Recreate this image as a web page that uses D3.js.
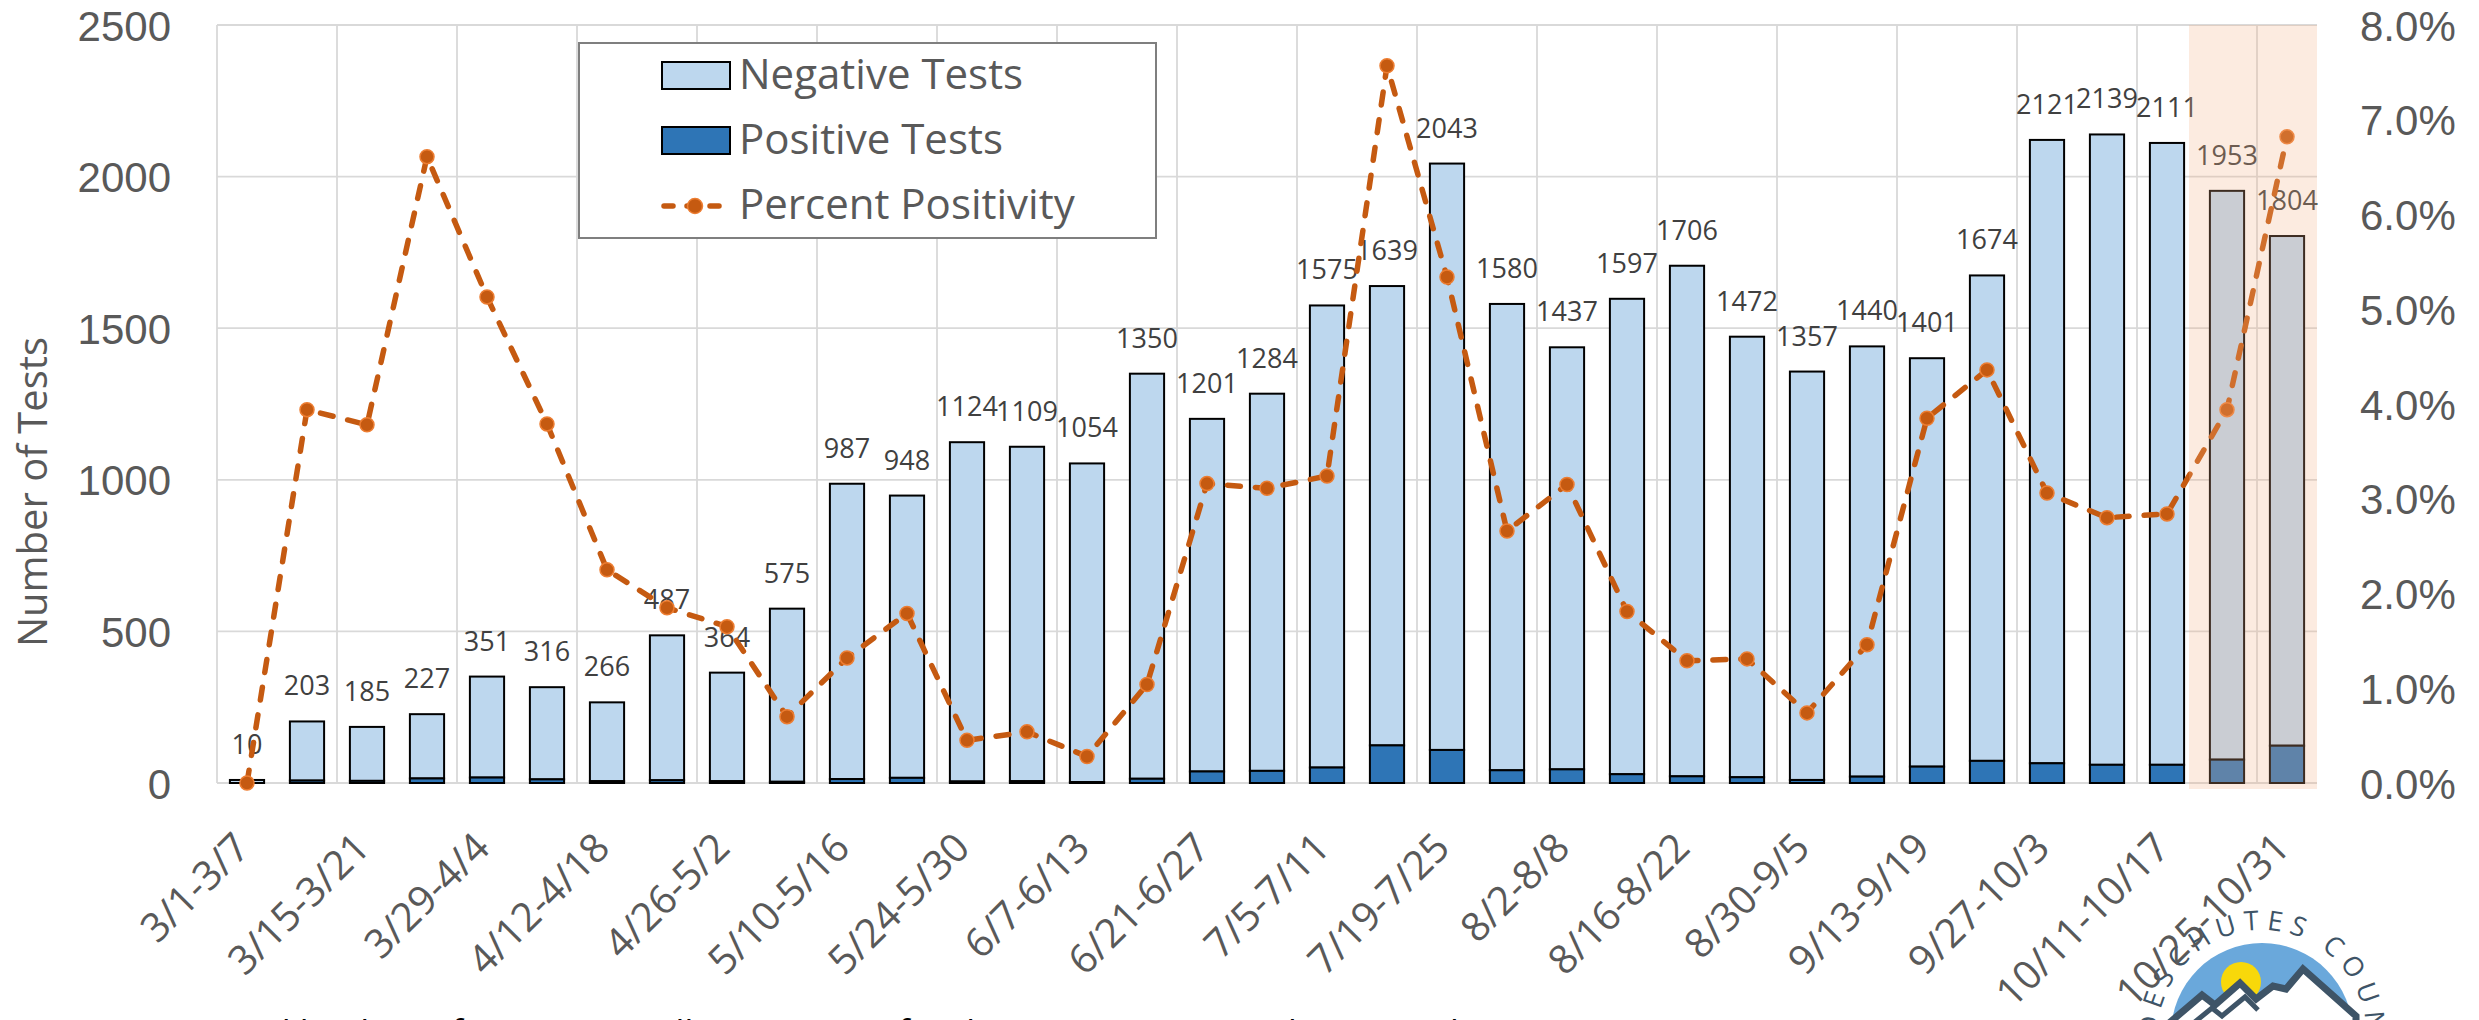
<!DOCTYPE html>
<html><head><meta charset="utf-8">
<script src="https://cdn.jsdelivr.net/npm/d3@7"></script>
<style>body{margin:0;background:#fff;}svg{display:block;}</style>
</head><body>
<svg id="chart" width="2479" height="1020"></svg>
<script>
// ---------- data ----------
const weeks = ["3/1-3/7","3/8-3/14","3/15-3/21","3/22-3/28","3/29-4/4","4/5-4/11","4/12-4/18","4/19-4/25",
  "4/26-5/2","5/3-5/9","5/10-5/16","5/17-5/23","5/24-5/30","5/31-6/6","6/7-6/13","6/14-6/20","6/21-6/27",
  "6/28-7/4","7/5-7/11","7/12-7/18","7/19-7/25","7/26-8/1","8/2-8/8","8/9-8/15","8/16-8/22","8/23-8/29",
  "8/30-9/5","9/6-9/12","9/13-9/19","9/20-9/26","9/27-10/3","10/4-10/10","10/11-10/17","10/18-10/24","10/25-10/31"];
const totalTests = [10,203,185,227,351,316,266,487,364,575,987,948,1124,1109,1054,1350,1201,1284,1575,1639,
  2043,1580,1437,1597,1706,1472,1357,1440,1401,1674,2121,2139,2111,1953,1804];
const positiveTests = [0,8,7,15,18,12,6,9,6,4,13,17,5,6,3,14,38,40,51,124,109,42,45,29,22,19,10,21,54,73,65,60,60,77,123];
const percentPositivity = [0.00,3.94,3.78,6.61,5.13,3.79,2.25,1.85,1.65,0.70,1.32,1.79,0.45,0.54,0.28,1.04,3.16,3.11,
  3.24,7.57,5.34,2.66,3.15,1.81,1.29,1.31,0.74,1.46,3.85,4.36,3.06,2.80,2.84,3.94,6.82];
const leftTicks = [0,500,1000,1500,2000,2500];
const rightTicks = [0,1,2,3,4,5,6,7,8];
const xLabelWeeks = weeks.filter((d,i)=>i%2===0);
const shadedWeeks = ["10/18-10/24","10/25-10/31"];
const seriesNames = ["Negative Tests","Positive Tests","Percent Positivity"];
const yTitle = "Number of Tests";
const footnote = "Tests are counted by date of specimen collection. Data for the most recent weeks are preliminary.";
const logoText = "DESCHUTES COUNTY";

// ---------- layout ----------
const FONT = "'Open Sans', 'DejaVu Sans', sans-serif";
const NUMFONT = "'Liberation Sans', Arial, sans-serif";
const L = 217, R = 2317, T = 25, B = 783;
const svg = d3.select("#chart");

const x = d3.scaleBand().domain(weeks).range([L, R]).paddingInner(0.43).paddingOuter(0.215);
const y = d3.scaleLinear().domain([0, 2500]).range([B, T]);
const y2 = d3.scaleLinear().domain([0, 8]).range([B, T]);
const step = x.step(), gap = (step - x.bandwidth()) / 2;
const cx = d => x(d) + x.bandwidth() / 2;

const rows = weeks.map((w,i)=>({week:w,total:totalTests[i],pos:positiveTests[i],neg:totalTests[i]-positiveTests[i],pct:percentPositivity[i]}));

// gridlines
const grid = svg.append("g");
grid.selectAll("line.h").data(leftTicks).join("line")
  .attr("x1", L).attr("x2", R).attr("y1", d=>y(d)).attr("y2", d=>y(d))
  .attr("stroke", "#d9d9d9").attr("stroke-width", 1.8);
grid.selectAll("line.v").data(xLabelWeeks).join("line")
  .attr("x1", d=>x(d)-gap).attr("x2", d=>x(d)-gap).attr("y1", T).attr("y2", B)
  .attr("stroke", "#d9d9d9").attr("stroke-width", 1.8);

// logo (bottom right)
const logo = svg.append("g");
const lc = {x: 2262, y: 1034};
logo.append("circle").attr("cx", lc.x).attr("cy", lc.y).attr("r", 91).attr("fill", "#6aa8db");
logo.append("circle").attr("cx", 2241).attr("cy", 982).attr("r", 20).attr("fill", "#f8d80a");
const ridge = [[2168,1024],[2202,995],[2215,1005],[2240,983],[2256,999],[2273,986],[2286,989],[2303,969],[2356,1016],[2356,1030],[2168,1030]];
logo.append("path").attr("d", d3.line()(ridge) + "Z").attr("fill", "#ffffff")
  .attr("stroke", "#3e5467").attr("stroke-width", 7).attr("stroke-linejoin", "miter");
logo.append("path").attr("d", d3.line()([[2185,1030],[2212,1008],[2222,1016],[2245,997],[2258,1010]]))
  .attr("fill", "none").attr("stroke", "#3e5467").attr("stroke-width", 5);
const rr = 104, a0 = 200 * Math.PI/180, a1 = -35 * Math.PI/180;
const arcD = `M${lc.x + rr*Math.cos(a0)},${lc.y - rr*Math.sin(a0)} A${rr},${rr} 0 1 1 ${lc.x + rr*Math.cos(a1)},${lc.y - rr*Math.sin(a1)}`;
logo.append("path").attr("id", "logoArc").attr("d", arcD).attr("fill", "none");
logo.append("text").attr("font-family", FONT).attr("font-size", 27).attr("fill", "#3e5467")
  .attr("letter-spacing", 7)
  .append("textPath").attr("href", "#logoArc").attr("startOffset", 34).text(logoText);

// bars
const bars = svg.append("g");
bars.selectAll("rect.neg").data(rows).join("rect")
  .attr("x", d=>x(d.week)).attr("width", x.bandwidth())
  .attr("y", d=>y(d.total)).attr("height", d=>y(d.pos)-y(d.total))
  .attr("fill", "#bdd7ee").attr("stroke", "#000").attr("stroke-width", 2);
bars.selectAll("rect.pos").data(rows).join("rect")
  .attr("x", d=>x(d.week)).attr("width", x.bandwidth())
  .attr("y", d=>y(d.pos)).attr("height", d=>y(0)-y(d.pos))
  .attr("fill", "#2e75b6").attr("stroke", "#000").attr("stroke-width", 2);

// data labels
svg.append("g").selectAll("text").data(rows).join("text")
  .attr("x", d=>cx(d.week)).attr("y", d=>y(d.total)-26)
  .attr("text-anchor", "middle").attr("font-family", FONT).attr("font-size", 27)
  .attr("fill", "#404040").text(d=>d.total);

// percent positivity line
const line = d3.line().x(d=>cx(d.week)).y(d=>y2(d.pct));
svg.append("path").datum(rows).attr("d", line).attr("fill", "none")
  .attr("stroke", "#c55a11").attr("stroke-width", 5.5).attr("stroke-dasharray", "13 15")
  .attr("stroke-linecap", "round");
svg.append("g").selectAll("circle").data(rows).join("circle")
  .attr("cx", d=>cx(d.week)).attr("cy", d=>y2(d.pct)).attr("r", 7)
  .attr("fill", "#c55a11").attr("stroke", "#ed7d31").attr("stroke-width", 1.5);

// shaded (preliminary) region overlay
svg.append("rect")
  .attr("x", x(shadedWeeks[0]) - gap - 8).attr("y", T)
  .attr("width", R - (x(shadedWeeks[0]) - gap - 8)).attr("height", B - T + 6)
  .attr("fill", "#f4b183").attr("opacity", 0.25);

// axes
const styleAxis = g => { g.select(".domain").remove(); g.selectAll(".tick line").remove();
  g.selectAll("text").attr("font-family", FONT).attr("fill", "#595959"); };
svg.append("g").attr("transform", `translate(${L},0)`)
  .call(d3.axisLeft(y).tickValues(leftTicks).tickSize(0).tickPadding(46).tickFormat(d3.format("d")))
  .call(styleAxis).selectAll("text").attr("font-family", NUMFONT).attr("font-size", 42).attr("dy", "0.36em");
svg.append("g").attr("transform", `translate(${R},0)`)
  .call(d3.axisRight(y2).tickValues(rightTicks).tickSize(0).tickPadding(43).tickFormat(d=>d.toFixed(1)+"%"))
  .call(styleAxis).selectAll("text").attr("font-family", NUMFONT).attr("font-size", 42).attr("dy", "0.36em");
svg.append("g").attr("transform", `translate(0,${B})`)
  .call(d3.axisBottom(x).tickValues(xLabelWeeks).tickSize(0))
  .call(styleAxis).selectAll("text")
  .attr("x", 0).attr("y", 0).attr("dy", 0).attr("text-anchor", "end").attr("font-size", 40)
  .attr("transform", "translate(5,67) rotate(-45)");

// y title
svg.append("text").attr("transform", "translate(47,492) rotate(-90)")
  .attr("text-anchor", "middle").attr("font-family", FONT).attr("font-size", 40)
  .attr("fill", "#595959").text(yTitle);

// legend
const lg = svg.append("g");
lg.append("rect").attr("x", 579).attr("y", 43).attr("width", 577).attr("height", 195)
  .attr("fill", "#fff").attr("stroke", "#7f7f7f").attr("stroke-width", 2);
lg.append("rect").attr("x", 662).attr("y", 62).attr("width", 68).attr("height", 27)
  .attr("fill", "#bdd7ee").attr("stroke", "#000").attr("stroke-width", 2);
lg.append("rect").attr("x", 662).attr("y", 127).attr("width", 68).attr("height", 27)
  .attr("fill", "#2e75b6").attr("stroke", "#000").attr("stroke-width", 2);
lg.append("line").attr("x1", 664).attr("x2", 726).attr("y1", 206).attr("y2", 206)
  .attr("stroke", "#c55a11").attr("stroke-width", 5.5).attr("stroke-dasharray", "9 14").attr("stroke-linecap", "round");
lg.append("circle").attr("cx", 695).attr("cy", 206).attr("r", 7.5)
  .attr("fill", "#c55a11").attr("stroke", "#ed7d31").attr("stroke-width", 1.5);
lg.selectAll("text").data(seriesNames).join("text")
  .attr("x", 739).attr("y", (d,i)=>89 + i*65)
  .attr("font-family", FONT).attr("font-size", 42).attr("fill", "#595959").text(d=>d);

// footnote (cut off at bottom edge)
svg.append("text").attr("x", 0).attr("y", 1045).attr("font-family", FONT).attr("font-size", 35)
  .attr("fill", "#000").text(footnote);
</script>
</body></html>
